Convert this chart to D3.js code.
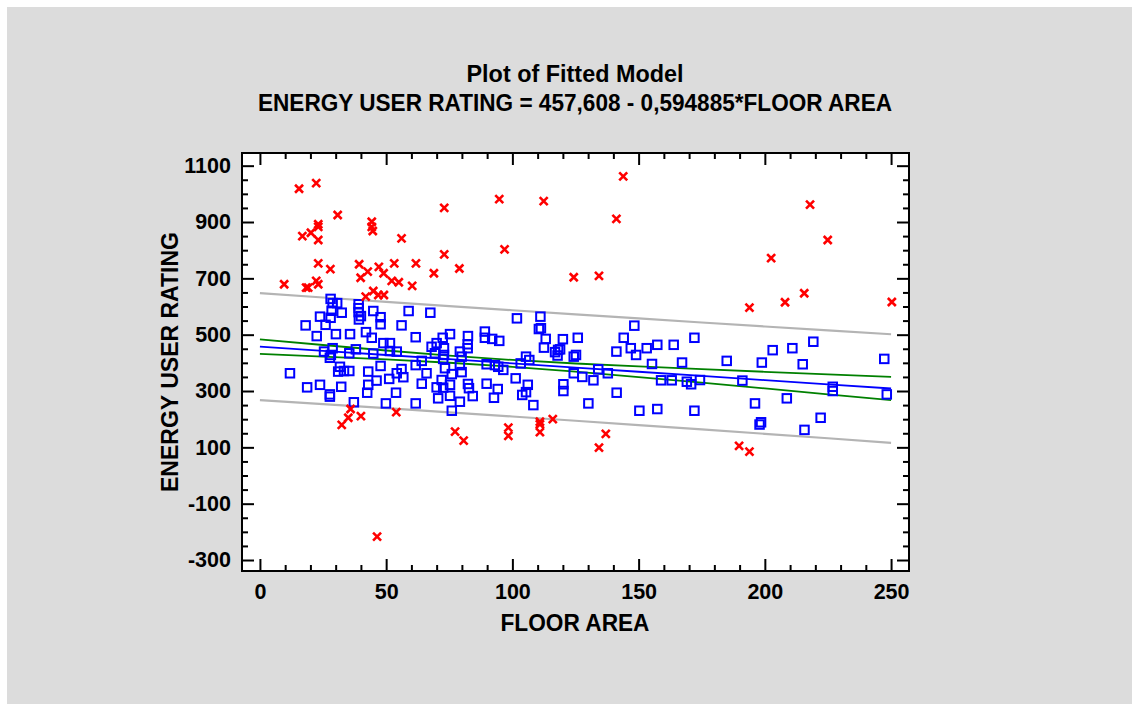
<!DOCTYPE html>
<html>
<head>
<meta charset="utf-8">
<script src="https://cdn.jsdelivr.net/npm/d3@7"></script>
<style>
  body { margin: 0; background: #fff; }
  svg { display: block; font-family: "Liberation Sans", Arial, sans-serif; font-weight: bold; }
</style>
</head>
<body>
<svg id="chart" width="1139" height="711"></svg>
<script>
// points outside the prediction limits (red crosses)
const outX = [15.5, 22.3, 73.0, 30.8, 23.1, 23.1, 44.3, 44.3, 44.7, 16.8, 20.2, 23.1, 56.1, 73.0, 23.1, 27.9, 39.3, 47.1,
  53.2, 61.8, 42.7, 39.9, 49.0, 68.9, 79.0, 52.2, 55.0, 60.3, 9.6, 18.3, 19.1, 22.3, 23.1, 44.9, 41.9, 46.9, 49.1,
  94.8, 112.4, 143.9, 141.2, 96.9, 124.3, 134.3, 217.9, 224.9, 202.5, 215.6, 208.0, 193.9, 250.3,
  35.9, 35.0, 40.0, 32.4, 54.0, 77.3, 46.4, 80.7, 98.4, 98.4, 110.9, 110.9, 110.9, 116.0, 137.0, 134.3, 189.8, 193.9]
const outY = [1018, 1038, 950, 925, 892, 883, 901, 883, 868, 850, 862, 836, 842, 785, 753, 733, 750, 741,
  753, 753, 724, 702, 718, 718, 735, 691, 686, 673, 679, 667, 667, 691, 679, 655, 635, 641, 641,
  981, 974, 1062, 911, 803, 704, 709, 962, 836, 772, 647, 615, 596, 616,
  236, 205, 211, 180, 225, 156, -217, 124, 170, 141, 191, 182, 154, 200, 148, 99, 105, 85]

// points inside the prediction limits (blue squares)
const inX = [28.0, 28.8, 30.6, 28.4, 32.4, 39.1, 39.1, 39.1, 40.0, 39.2, 44.9, 47.8, 47.8, 58.9, 67.5, 23.8, 28.0, 26.0,
  18.1, 56.1, 22.5, 30.1, 35.7, 42.0, 44.3, 61.7, 48.9, 51.5, 70.0, 72.4, 75.3, 82.4, 28.8, 38.0, 25.4, 28.1, 35.4,
  27.7, 44.9, 51.5, 54.2, 68.0, 69.3, 72.9, 72.9, 79.2, 79.9, 64.1, 61.7, 72.6, 79.2, 47.8, 31.7, 31.0, 33.3, 35.4,
  42.9, 11.9, 56.1, 54.2, 56.8, 51.2, 46.2, 66.0, 73.3, 76.0, 79.9, 72.0, 64.1, 75.3, 82.4, 42.9, 18.7, 23.8, 32.2,
  70.0, 72.6, 42.5, 53.9, 27.7, 27.7, 70.6, 75.3, 37.2, 49.9, 61.7, 79.2, 76.0,
  101.8, 111.1, 110.5, 111.3, 148.3, 89.1, 89.1, 92.0, 94.8, 113.2, 120.0, 125.9, 144.1, 112.5, 82.3, 82.3, 116.9,
  118.1, 118.9, 117.9, 124.3, 125.2, 141.2, 146.9, 149.0, 153.2, 157.4, 163.9, 105.4, 106.7, 103.3, 89.8, 93.1, 94.4,
  96.4, 155.3, 167.2, 124.3, 127.7, 132.1, 134.0, 137.8, 158.9, 163.1, 101.3, 82.8, 89.8, 94.2, 84.3, 92.7, 106.1,
  105.4, 103.9, 120.2, 120.2, 141.3, 108.3, 130.1, 150.3, 157.4,
  172.1, 184.9, 198.8, 203.1, 210.9, 219.2, 215.0, 247.3, 169.1, 170.8, 174.3, 191.1, 226.9, 226.9, 248.3, 196.1,
  208.7, 172.1, 198.5, 197.9, 222.1, 215.7]
const inY = [627, 612, 612, 585, 578, 608, 594, 580, 566, 554, 584, 562, 537, 584, 578, 564, 560, 535,
  533, 533, 495, 502, 502, 509, 489, 491, 470, 470, 470, 489, 502, 495, 452, 448, 440, 428, 434,
  418, 433, 442, 440, 457, 434, 452, 428, 440, 422, 407, 392, 414, 392, 389, 386, 369, 371, 371,
  369, 363, 378, 363, 349, 343, 337, 363, 381, 360, 367, 339, 326, 322, 325, 322, 313, 322, 315,
  313, 312, 294, 294, 288, 280, 274, 283, 260, 256, 256, 262, 230,
  558, 564, 520, 523, 532, 511, 489, 485, 478, 485, 484, 489, 489, 454, 466, 452, 438,
  446, 448, 426, 422, 428, 440, 452, 428, 452, 464, 464, 422, 410, 398, 395, 392, 386,
  375, 396, 401, 363, 350, 338, 377, 363, 338, 338, 345, 310, 326, 307, 282, 276, 322,
  296, 286, 324, 300, 294, 250, 256, 230, 236,
  489, 407, 401, 445, 452, 475, 395, 414, 333, 324, 339, 337, 315, 300, 288, 256,
  274, 230, 189, 181, 205, 162]

// fitted line and limits, read at these floor areas
const bandX = [0, 25, 50, 75, 100, 125, 150, 175, 200, 225, 250]
const fitY = [457.6, 442.7, 427.9, 413.0, 398.1, 383.2, 368.4, 353.5, 338.6, 323.7, 308.9]
const confUpper = [483.6, 463.3, 443.8, 425.6, 410.2, 397.7, 387.2, 377.5, 368.2, 359.2, 350.4]
const confLower = [431.6, 422.1, 412.0, 400.4, 386.0, 368.7, 349.6, 329.5, 309.0, 288.2, 267.4]
const predUpper = [647.6, 632.0, 616.8, 601.6, 586.7, 572.0, 557.6, 543.2, 529.1, 515.2, 501.6]
const predLower = [267.6, 253.4, 239.0, 224.4, 209.5, 194.4, 179.2, 163.8, 148.1, 132.2, 116.2]

const xTicks = [0, 50, 100, 150, 200, 250]
const yTicks = [-300, -100, 100, 300, 500, 700, 900, 1100]

const W = 1139, H = 711
const plot = { left: 242, right: 909, top: 153, bottom: 571 }
const tickFont = 21.5
const titleFont = 23

const svg = d3.select('#chart')

svg.append('rect')
  .attr('x', 7).attr('y', 7)
  .attr('width', W - 14).attr('height', H - 14)
  .attr('fill', '#dcdcdc')

svg.append('rect')
  .attr('x', plot.left).attr('y', plot.top)
  .attr('width', plot.right - plot.left).attr('height', plot.bottom - plot.top)
  .attr('fill', '#fff')

const x = d3.scaleLinear().domain([-7.1, 257.1]).range([plot.left, plot.right])
const y = d3.scaleLinear().domain([-339, 1145]).range([plot.bottom, plot.top])

const xMinor = d3.range(0, 251, 10).filter(v => v % 50 !== 0)
const yMinor = d3.range(-300, 1101, 50).filter(v => (v + 300) % 200 !== 0)
const fmt = v => String(v)   // plain hyphen for negatives, as in the original

function styleAxis(g) {
  g.select('.domain').remove()
  g.selectAll('line').attr('stroke', '#000').attr('stroke-width', 2)
  g.selectAll('text').attr('font-size', tickFont).attr('fill', '#000')
    .attr('font-family', '"Liberation Sans", Arial, sans-serif').attr('font-weight', 'bold')
}

// bottom / top
svg.append('g').attr('transform', `translate(0,${plot.bottom})`)
  .call(d3.axisBottom(x).tickValues(xTicks).tickSize(-12).tickPadding(13).tickFormat(fmt))
  .call(styleAxis)
svg.append('g').attr('transform', `translate(0,${plot.bottom})`)
  .call(d3.axisBottom(x).tickValues(xMinor).tickSize(-6).tickFormat(''))
  .call(styleAxis)
svg.append('g').attr('transform', `translate(0,${plot.top})`)
  .call(d3.axisTop(x).tickValues(xTicks).tickSize(-12).tickFormat(''))
  .call(styleAxis)
svg.append('g').attr('transform', `translate(0,${plot.top})`)
  .call(d3.axisTop(x).tickValues(xMinor).tickSize(-6).tickFormat(''))
  .call(styleAxis)

// left / right
svg.append('g').attr('transform', `translate(${plot.left},0)`)
  .call(d3.axisLeft(y).tickValues(yTicks).tickSize(-12).tickPadding(11).tickFormat(fmt))
  .call(styleAxis)
svg.append('g').attr('transform', `translate(${plot.left},0)`)
  .call(d3.axisLeft(y).tickValues(yMinor).tickSize(-6).tickFormat(''))
  .call(styleAxis)
svg.append('g').attr('transform', `translate(${plot.right},0)`)
  .call(d3.axisRight(y).tickValues(yTicks).tickSize(-12).tickFormat(''))
  .call(styleAxis)
svg.append('g').attr('transform', `translate(${plot.right},0)`)
  .call(d3.axisRight(y).tickValues(yMinor).tickSize(-6).tickFormat(''))
  .call(styleAxis)

// lines
const line = arr => d3.line().x((d, i) => x(bandX[i])).y(d => y(d))(arr)
const bands = [
  { data: predUpper, color: '#b4b4b4', w: 2.2 },
  { data: predLower, color: '#b4b4b4', w: 2.2 },
  { data: confUpper, color: '#008000', w: 1.8 },
  { data: confLower, color: '#008000', w: 1.8 },
  { data: fitY, color: '#0000ff', w: 1.8 }
]
svg.append('g').selectAll('path').data(bands).enter().append('path')
  .attr('d', d => line(d.data))
  .attr('fill', 'none')
  .attr('stroke', d => d.color)
  .attr('stroke-width', d => d.w)

// blue squares
const sq = 8.5
svg.append('g').selectAll('rect').data(inX).enter().append('rect')
  .attr('x', (d, i) => x(d) - sq / 2)
  .attr('y', (d, i) => y(inY[i]) - sq / 2)
  .attr('width', sq).attr('height', sq)
  .attr('fill', 'none')
  .attr('stroke', '#0000ff')
  .attr('stroke-width', 2)

// red crosses
const cr = 4
svg.append('g').selectAll('path').data(outX).enter().append('path')
  .attr('d', (d, i) => {
    const cx = x(d), cy = y(outY[i])
    return `M${cx - cr},${cy - cr}L${cx + cr},${cy + cr}M${cx - cr},${cy + cr}L${cx + cr},${cy - cr}`
  })
  .attr('fill', 'none')
  .attr('stroke', '#ff0000')
  .attr('stroke-width', 2.6)

// frame
svg.append('rect')
  .attr('x', plot.left).attr('y', plot.top)
  .attr('width', plot.right - plot.left).attr('height', plot.bottom - plot.top)
  .attr('fill', 'none').attr('stroke', '#000').attr('stroke-width', 2)

// titles (widths matched to the original)
function title(text, tx, ty, len, rotate) {
  svg.append('text')
    .attr('transform', `translate(${tx},${ty})` + (rotate ? ' rotate(-90)' : ''))
    .attr('text-anchor', 'middle').attr('font-size', titleFont)
    .attr('textLength', len).attr('lengthAdjust', 'spacingAndGlyphs')
    .text(text)
}
title('Plot of Fitted Model', 575, 82, 217)
title('ENERGY USER RATING = 457,608 - 0,594885*FLOOR AREA', 575, 111, 634)
title('FLOOR AREA', 575, 631, 149)
title('ENERGY USER RATING', 178, 362, 260, true)
</script>
</body>
</html>
